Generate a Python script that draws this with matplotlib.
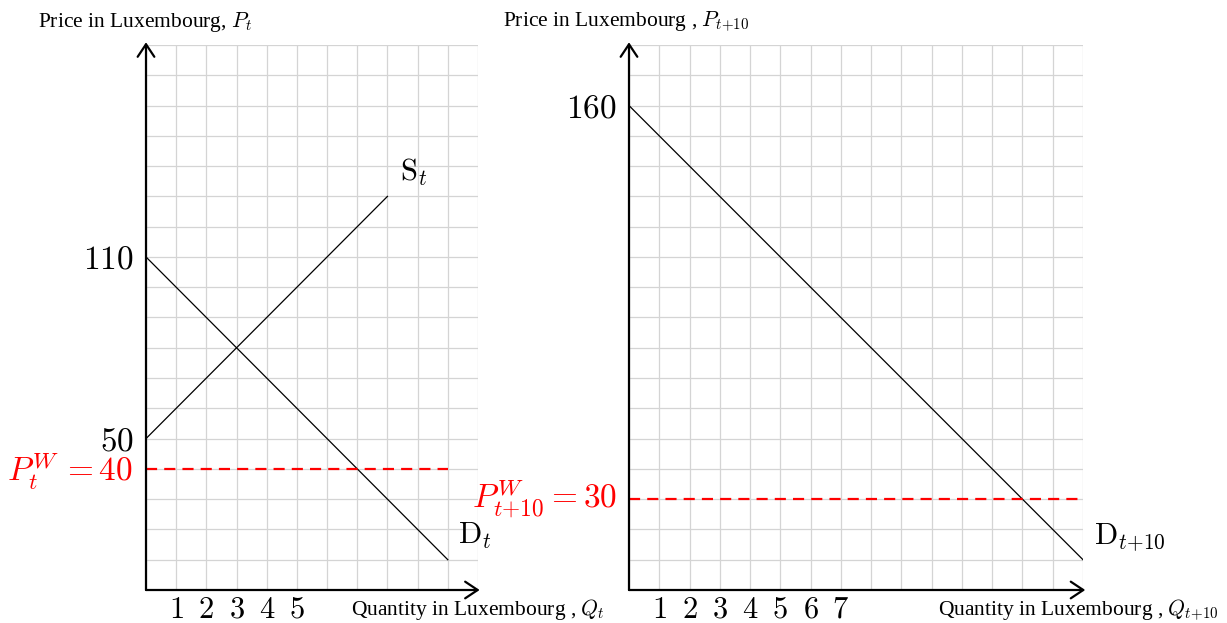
import matplotlib
matplotlib.use("Agg")
import matplotlib.pyplot as plt

plt.rcParams["font.family"] = ["Liberation Serif", "DejaVu Serif"]
plt.rcParams["mathtext.fontset"] = "cm"

# --- data -------------------------------------------------------------
# period t
demand_t_q = [0, 10]
demand_t_p = [110, 10]
supply_t_q = [0, 8]
supply_t_p = [50, 130]
world_t_q = [0, 10]
world_t_p = 40
yticks_t = [50, 110]
xticks_t = [1, 2, 3, 4, 5]

# period t+10
demand_t10_q = [0, 15]
demand_t10_p = [160, 10]
world_t10_q = [0, 15]
world_t10_p = 30
yticks_t10 = [160]
xticks_t10 = [1, 2, 3, 4, 5, 6, 7]

GRID = "#d4d4d4"
RED = "#ff0000"


def setup_axes(ax, xmax, ymax, xlabels, ylabels):
    ax.set_xlim(0, xmax)
    ax.set_ylim(0, ymax)
    ax.set_xticks(range(0, xmax + 1))
    ax.set_xticklabels([f"${v}$" if v in xlabels else "" for v in range(0, xmax + 1)])
    ax.set_yticks(range(0, ymax + 1, 10))
    ax.set_yticklabels([f"${v}$" if v in ylabels else "" for v in range(0, ymax + 1, 10)])
    ax.tick_params(length=0)
    ax.tick_params(axis="x", labelsize=22, pad=4)
    ax.tick_params(axis="y", labelsize=24, pad=9)
    ax.grid(True, color=GRID, lw=0.9)
    ax.set_axisbelow(True)
    for s in ax.spines.values():
        s.set_visible(False)
    arrow = dict(arrowstyle="->,head_length=0.45,head_width=0.3", lw=1.6,
                 color="black", shrinkA=0, shrinkB=0, mutation_scale=20)
    ax.annotate("", xy=(0, 1.005), xytext=(0, 0), xycoords="axes fraction",
                arrowprops=arrow, annotation_clip=False)
    ax.annotate("", xy=(1.005, 0), xytext=(0, 0), xycoords="axes fraction",
                arrowprops=arrow, annotation_clip=False)


fig = plt.figure(figsize=(12.27, 6.23), dpi=100)
ax1 = fig.add_axes([146 / 1227, 33 / 623, 332 / 1227, 545 / 623])
ax2 = fig.add_axes([629 / 1227, 33 / 623, 454 / 1227, 545 / 623])

# left panel
setup_axes(ax1, 11, 180, xticks_t, yticks_t)
ax1.plot(demand_t_q, demand_t_p, color="black", lw=0.9)
ax1.plot(supply_t_q, supply_t_p, color="black", lw=0.9)
ax1.plot(world_t_q, [world_t_p] * 2, color=RED, lw=1.6, dashes=(5, 3.2))
ax1.text(8.4, 138, r"$\mathrm{S}_t$", fontsize=22, ha="left", va="center")
ax1.text(10.35, 18, r"$\mathrm{D}_t$", fontsize=22, ha="left", va="center")
ax1.text(-0.42, world_t_p - 0.8, r"$P_t^W\,= 40$", fontsize=24, color=RED,
         ha="right", va="center")

# right panel
setup_axes(ax2, 15, 180, xticks_t10, yticks_t10)
ax2.plot(demand_t10_q, demand_t10_p, color="black", lw=0.9)
ax2.plot(world_t10_q, [world_t10_p] * 2, color=RED, lw=1.6, dashes=(5, 3.2))
ax2.text(15.35, 17.5, r"$\mathrm{D}_{t{+}10}$", fontsize=22, ha="left", va="center")
ax2.text(-0.4, world_t10_p, r"$P_{t{+}10}^W = 30$", fontsize=24, color=RED,
         ha="right", va="center")

# axis titles
fig.text(38 / 1227, 1 - 22 / 623, r"Price in Luxembourg, $P_t$", fontsize=15.5,
         ha="left", va="center")
fig.text(503 / 1227, 1 - 22 / 623, r"Price in Luxembourg , $P_{t{+}10}$", fontsize=15.5,
         ha="left", va="center")
fig.text(351 / 1227, 1 - 610 / 623, r"Quantity in Luxembourg , $Q_t$", fontsize=15.5,
         ha="left", va="center")
fig.text(938 / 1227, 1 - 610 / 623, r"Quantity in Luxembourg , $Q_{t{+}10}$", fontsize=15.5,
         ha="left", va="center")

fig.savefig("out.png", dpi=100)
